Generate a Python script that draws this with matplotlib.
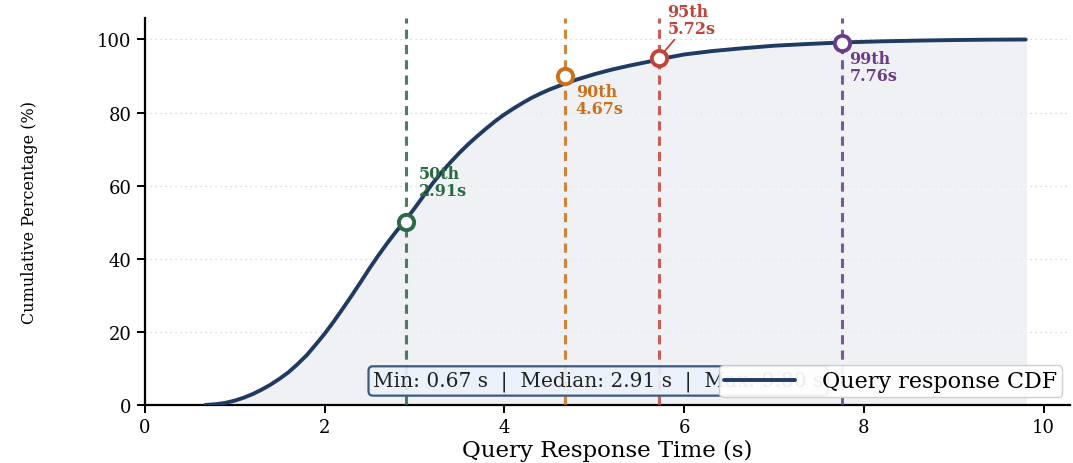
import matplotlib
matplotlib.use("Agg")
import matplotlib.pyplot as plt

# CDF curve
times = [0.67, 0.8, 0.9, 1.0, 1.1, 1.2, 1.3, 1.4, 1.5, 1.6, 1.7, 1.8, 1.9, 2.0,
         2.1, 2.2, 2.3, 2.4, 2.5, 2.6, 2.7, 2.8, 2.9, 3.0, 3.1, 3.2, 3.3, 3.4, 3.5,
         3.6, 3.7, 3.8, 3.9, 4.0, 4.1, 4.2, 4.3, 4.4, 4.5, 4.67, 4.8, 5.0, 5.2, 5.4,
         5.6, 5.72, 6.0, 6.3, 6.6, 7.0, 7.4, 7.76, 8.2, 8.6, 9.0, 9.4, 9.8]
cum_pct = [0.0, 0.25, 0.6, 1.2, 2.0, 3.0, 4.2, 5.6, 7.2, 9.0, 11.2, 13.6, 16.5, 19.5,
           22.8, 26.3, 29.9, 33.6, 37.4, 41.0, 44.4, 47.6, 50.6, 53.8, 57.2, 60.6, 63.6, 66.4, 69.0,
           71.4, 73.6, 75.7, 77.7, 79.5, 81.1, 82.6, 84.0, 85.2, 86.3, 87.9, 89.0, 90.5, 91.8, 92.9,
           93.9, 94.6, 95.9, 96.8, 97.5, 98.3, 98.8, 99.2, 99.5, 99.7, 99.85, 99.95, 100.0]

pct_labels = ["50th", "90th", "95th", "99th"]
pct_levels = [50, 90, 95, 99]
pct_values = [2.91, 4.67, 5.72, 7.76]
pct_colors = ["#2a6a45", "#c9711b", "#c0443c", "#6a3d86"]

stats_min = 0.67
stats_median = 2.91
stats_max = 9.80

plt.rcParams["font.family"] = ["DejaVu Serif"]

fig, ax = plt.subplots(figsize=(10.73, 4.64), dpi=100)
fig.subplots_adjust(left=0.135, right=0.997, bottom=0.125, top=0.96)

curve_color = "#1f3b63"
ax.fill_between(times, cum_pct, 0, color="#e9ecf0", alpha=0.7, zorder=1)
ax.plot(times, cum_pct, color=curve_color, lw=2.8, zorder=4, label="Query response CDF",
        solid_capstyle="round", solid_joinstyle="round")

offsets = [(9, 17), (8, -5), (6, 15), (5, -5)]
for lab, lvl, val, col, off in zip(pct_labels, pct_levels, pct_values, pct_colors, offsets):
    ax.axvline(val, color=col, ls=(0, (3, 2)), lw=2.2, zorder=3, alpha=0.85)
    ax.plot([val], [lvl], marker="o", ms=11, mfc="white", mec=col, mew=2.8, zorder=6)
    if lab == "95th":
        ax.annotate(f"{lab}\n{val:.2f}s", xy=(val, lvl), xytext=off, textcoords="offset points",
                    color=col, fontsize=11.5, fontweight="bold", ha="left", va="bottom",
                    linespacing=1.0, zorder=7,
                    arrowprops=dict(arrowstyle="-", color=col, lw=1.3, shrinkA=0, shrinkB=6))
    else:
        ax.annotate(f"{lab}\n{val:.2f}s", xy=(val, lvl), xytext=off, textcoords="offset points",
                    color=col, fontsize=11.5, fontweight="bold", ha="left",
                    va="bottom" if off[1] > 0 else "top", linespacing=1.0, zorder=7)

ax.text(0.49, 0.062,
        f"Min: {stats_min:.2f} s  |  Median: {stats_median:.2f} s  |  Max: {stats_max:.2f} s",
        transform=ax.transAxes, ha="center", va="center", fontsize=14.5, color="#222222",
        zorder=8,
        bbox=dict(boxstyle="round,pad=0.22", fc="#eaf2fb", ec="#2c4a6e", lw=1.6, alpha=0.9))

leg = ax.legend(loc="lower right", fontsize=16, frameon=True, fancybox=True,
                framealpha=0.92, edgecolor="#cccccc", handlelength=3.2, handletextpad=1.2,
                borderaxespad=0.35, borderpad=0.22)
leg.set_zorder(10)

ax.set_xlim(0, stats_max * 1.05)
ax.set_ylim(0, 106)
ax.set_xticks([0, 2, 4, 6, 8, 10])
ax.set_yticks([0, 20, 40, 60, 80, 100])
ax.yaxis.grid(True, ls=(0, (1, 3)), color="#cfcfcf", lw=0.9)
ax.set_axisbelow(True)
for s in ["top", "right"]:
    ax.spines[s].set_visible(False)
for s in ["left", "bottom"]:
    ax.spines[s].set_linewidth(1.6)
    ax.spines[s].set_color("black")
ax.tick_params(axis="both", labelsize=13, width=1.4, length=6, direction="out")
ax.set_xlabel("Query Response Time (s)", fontsize=16.5, labelpad=2)
ax.set_ylabel("Cumulative Percentage (%)", fontsize=11.5)
ax.yaxis.set_label_coords(-0.115, 0.5)

fig.savefig("out.png", dpi=100)
